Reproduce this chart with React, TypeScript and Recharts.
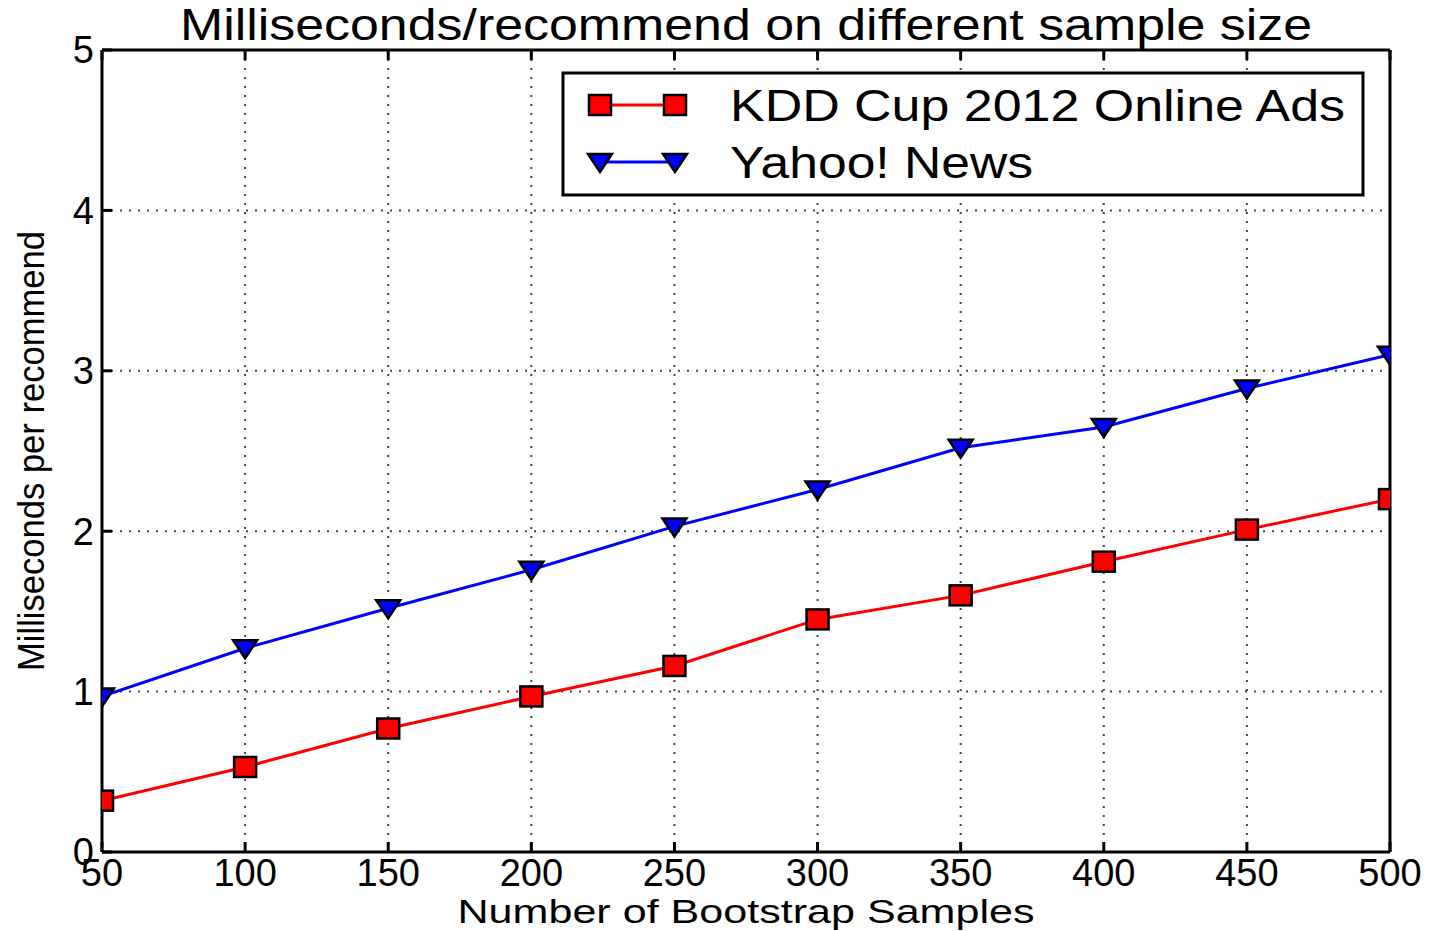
import React from "react";
import { CartesianGrid, Line, LineChart, XAxis, YAxis } from "recharts";

// sample sizes on the x axis
const sampleSizes = [50, 100, 150, 200, 250, 300, 350, 400, 450, 500];
// ms per recommend
const kddCupValues = [0.32, 0.53, 0.77, 0.97, 1.16, 1.45, 1.6, 1.81, 2.01, 2.2];
const yahooNewsValues = [0.97, 1.27, 1.52, 1.76, 2.03, 2.26, 2.52, 2.65, 2.89, 3.1];
const yTicks = [0, 1, 2, 3, 4, 5];

const chartTitle = "Milliseconds/recommend on different sample size";
const xLabel = "Number of Bootstrap Samples";
const yLabel = "Milliseconds per recommend";
const kddName = "KDD Cup 2012 Online Ads";
const yahooName = "Yahoo! News";

const data = sampleSizes.map((size, i) => ({
  size,
  kdd: kddCupValues[i],
  yahoo: yahooNewsValues[i],
}));

const FONT = "'Liberation Sans', Arial, Helvetica, sans-serif";
const W = 1431;
const H = 931;

function SquareDot(props: any) {
  const { cx, cy } = props;
  if (cx == null || cy == null) return null;
  return (
    <rect x={cx - 11} y={cy - 10} width={22} height={20} fill="#ff0000" stroke="#000" strokeWidth={2.5} />
  );
}

function TriangleDot(props: any) {
  const { cx, cy } = props;
  if (cx == null || cy == null) return null;
  return (
    <path
      d={`M${cx - 12},${cy - 8} L${cx + 12},${cy - 8} L${cx},${cy + 10} Z`}
      fill="#0000ff"
      stroke="#000"
      strokeWidth={2.5}
    />
  );
}

const emptyTick = () => <g />;
const axisStroke = { stroke: "#000", strokeWidth: 3 };

export default function App() {
  return (
    <div style={{ position: "absolute", left: 0, top: 0, width: W, height: H, background: "#fff" }}>
      <LineChart
        width={W}
        height={H}
        data={data}
        margin={{ top: 49, right: 40, bottom: 0, left: 0 }}
        style={{ fontFamily: FONT }}
      >
        <CartesianGrid
          xAxisId="b"
          yAxisId="l"
          stroke="#444"
          strokeWidth={2}
          strokeDasharray="2 7"
        />
        <XAxis
          xAxisId="b"
          dataKey="size"
          type="number"
          domain={[50, 500]}
          ticks={sampleSizes}
          allowDataOverflow
          height={79}
          tickSize={-10}
          tickMargin={17}
          axisLine={axisStroke}
          tickLine={axisStroke}
          tick={{ fontSize: 38, fill: "#000", fontFamily: FONT }}
        />
        <XAxis
          xAxisId="t"
          orientation="top"
          dataKey="size"
          type="number"
          domain={[50, 500]}
          ticks={sampleSizes}
          height={1}
          tickSize={-10}
          axisLine={axisStroke}
          tickLine={axisStroke}
          tick={emptyTick}
        />
        <YAxis
          yAxisId="l"
          type="number"
          domain={[0, 5]}
          ticks={yTicks}
          width={102}
          tickSize={-10}
          tickMargin={18}
          axisLine={axisStroke}
          tickLine={axisStroke}
          tick={{ fontSize: 38, fill: "#000", fontFamily: FONT }}
        />
        <YAxis
          yAxisId="r"
          orientation="right"
          type="number"
          domain={[0, 5]}
          ticks={yTicks}
          width={1}
          tickSize={-10}
          axisLine={axisStroke}
          tickLine={axisStroke}
          tick={emptyTick}
        />
        <Line
          xAxisId="b"
          yAxisId="l"
          dataKey="kdd"
          name={kddName}
          stroke="#ff0000"
          strokeWidth={3}
          dot={<SquareDot />}
          activeDot={false}
          isAnimationActive={false}
        />
        <Line
          xAxisId="b"
          yAxisId="l"
          dataKey="yahoo"
          name={yahooName}
          stroke="#0000ff"
          strokeWidth={3}
          dot={<TriangleDot />}
          activeDot={false}
          isAnimationActive={false}
        />

        <text x={746} y={40} textAnchor="middle" fontSize={44} fontFamily={FONT} fill="#000" textLength={1132} lengthAdjust="spacingAndGlyphs">
          {chartTitle}
        </text>
        <text x={746} y={923} textAnchor="middle" fontSize={34} fontFamily={FONT} fill="#000" textLength={577} lengthAdjust="spacingAndGlyphs">
          {xLabel}
        </text>
        <text
          x={0}
          y={0}
          transform="translate(44,451) rotate(-90)"
          textAnchor="middle"
          fontSize={36}
          fontFamily={FONT}
          fill="#000"
          textLength={440}
          lengthAdjust="spacingAndGlyphs"
        >
          {yLabel}
        </text>

        <g>
          <rect x={563} y={73} width={800} height={122} fill="#fff" stroke="#000" strokeWidth={3} />
          <line x1={600} y1={105} x2={675} y2={105} stroke="#ff0000" strokeWidth={3} />
          <SquareDot cx={600} cy={105} />
          <SquareDot cx={675} cy={105} />
          <text x={730} y={121} fontSize={44} fontFamily={FONT} fill="#000" textLength={615} lengthAdjust="spacingAndGlyphs">
            {kddName}
          </text>
          <line x1={600} y1={162} x2={675} y2={162} stroke="#0000ff" strokeWidth={3} />
          <TriangleDot cx={600} cy={162} />
          <TriangleDot cx={675} cy={162} />
          <text x={730} y={178} fontSize={44} fontFamily={FONT} fill="#000" textLength={303} lengthAdjust="spacingAndGlyphs">
            {yahooName}
          </text>
        </g>
      </LineChart>
    </div>
  );
}
